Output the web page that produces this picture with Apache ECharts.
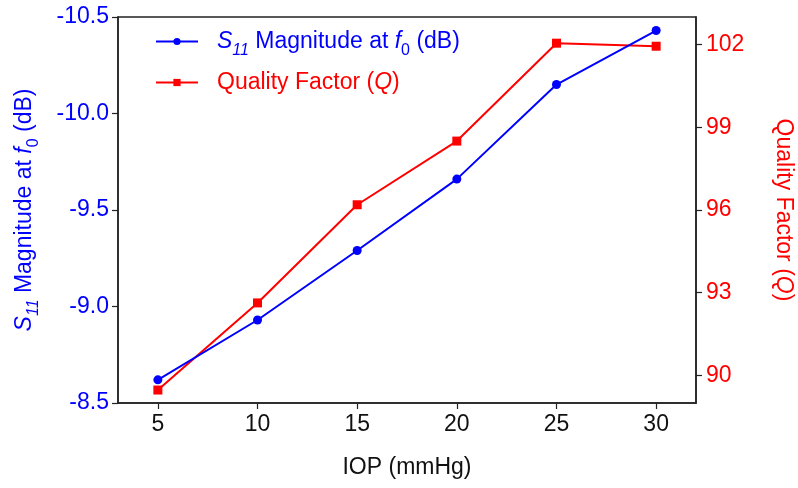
<!DOCTYPE html>
<html>
<head>
<meta charset="utf-8">
<script src="https://cdn.jsdelivr.net/npm/echarts@6/dist/echarts.min.js"></script>
<style>
  html, body { margin: 0; padding: 0; background: #fff; }
  #chart { width: 798px; height: 488px; }
</style>
</head>
<body>
<div id="chart"></div>
<script>
// IOP levels (mmHg)
const iop = [5, 10, 15, 20, 25, 30];
// S11 magnitude at the resonant frequency (dB)
const s11 = [-8.62, -8.93, -9.29, -9.66, -10.15, -10.43];
// Quality factor
const qFactor = [89.47, 92.63, 96.19, 98.50, 102.05, 101.94];
// Tick labels
const s11Ticks = [-10.5, -10.0, -9.5, -9.0, -8.5];
const qTicks = [90, 93, 96, 99, 102];
const iopTicks = [5, 10, 15, 20, 25, 30];

const BLUE = '#0000ff';
const RED = '#ff0000';
const AXIS = '#222222';
const FONT = '"Liberation Sans", Arial, sans-serif';
const FS = 23;

const S11_NAME = 'S11 Magnitude at f0 (dB)';
const Q_NAME = 'Quality Factor (Q)';

const rich = {
  n: { fontFamily: FONT, fontSize: FS, lineHeight: 25, verticalAlign: 'middle' },
  i: { fontFamily: FONT, fontSize: FS, fontStyle: 'italic', lineHeight: 25, verticalAlign: 'middle' },
  si: { fontFamily: FONT, fontSize: 16, fontStyle: 'italic', lineHeight: 35, verticalAlign: 'bottom' },
  s: { fontFamily: FONT, fontSize: 16, lineHeight: 35, verticalAlign: 'bottom' }
};

function richLabel(name) {
  if (name === S11_NAME) return '{i|S}{si|11}{n| Magnitude at }{i|f}{s|0}{n| (dB)}';
  return '{n|Quality Factor (}{i|Q}{n|)}';
}

const chart = echarts.init(document.getElementById('chart'), null, { renderer: 'canvas' });

chart.setOption({
  animation: false,
  backgroundColor: '#ffffff',
  textStyle: { fontFamily: FONT },
  grid: {
    left: 118, right: 102, top: 17, bottom: 85,
    containLabel: false, outerBoundsMode: 'none',
    show: true, borderColor: AXIS, borderWidth: 1.5, backgroundColor: 'transparent'
  },
  legend: {
    left: 150, top: 25, orient: 'vertical',
    itemWidth: 42, itemHeight: 9, itemGap: 12,
    data: [
      { name: S11_NAME, textStyle: { color: BLUE } },
      { name: Q_NAME, textStyle: { color: RED } }
    ],
    formatter: richLabel,
    textStyle: { fontFamily: FONT, fontSize: FS, rich: rich, padding: [0, 0, 0, 14] }
  },
  xAxis: {
    type: 'value', min: 3, max: 32,
    name: 'IOP (mmHg)', nameLocation: 'middle', nameGap: 53,
    nameTextStyle: { color: '#111', fontSize: FS, fontFamily: FONT },
    axisLine: { show: true, lineStyle: { color: AXIS, width: 1.5 } },
    axisTick: { show: true, inside: false, length: 6, lineStyle: { color: AXIS, width: 1.2 }, customValues: iopTicks },
    axisLabel: { color: '#111', fontSize: FS, fontFamily: FONT, margin: 10, customValues: iopTicks },
    splitLine: { show: false }
  },
  yAxis: [
    {
      type: 'value', inverse: true, min: -10.5, max: -8.5, interval: 0.5,
      position: 'left',
      name: '{i|S}{si|11}{n| Magnitude at }{i|f}{s|0}{n| (dB)}',
      nameLocation: 'middle', nameGap: 76,
      nameTextStyle: { color: BLUE, fontSize: FS, fontFamily: FONT, rich: rich },
      axisLine: { show: true, lineStyle: { color: AXIS, width: 1.5 } },
      axisTick: { show: true, inside: false, length: 6, lineStyle: { color: AXIS, width: 1.2 }, customValues: s11Ticks },
      axisLabel: {
        color: BLUE, fontSize: FS, fontFamily: FONT, margin: 9, customValues: s11Ticks,
        formatter: v => v.toFixed(1)
      },
      splitLine: { show: false }
    },
    {
      type: 'value', min: 89, max: 103,
      position: 'right',
      name: '{n|Quality Factor (}{i|Q}{n|)}',
      nameLocation: 'middle', nameGap: 75, nameRotate: -90,
      nameTextStyle: { color: RED, fontSize: FS, fontFamily: FONT, rich: rich },
      axisLine: { show: true, lineStyle: { color: AXIS, width: 1.5 } },
      axisTick: { show: true, inside: false, length: 6, lineStyle: { color: AXIS, width: 1.2 }, customValues: qTicks },
      axisLabel: { color: RED, fontSize: FS, fontFamily: FONT, margin: 10, customValues: qTicks },
      splitLine: { show: false }
    }
  ],
  series: [
    {
      name: S11_NAME, type: 'line', yAxisIndex: 0,
      data: iop.map((x, k) => [x, s11[k]]),
      symbol: 'circle', symbolSize: 9,
      lineStyle: { color: BLUE, width: 2 },
      itemStyle: { color: BLUE },
      z: 3
    },
    {
      name: Q_NAME, type: 'line', yAxisIndex: 1,
      data: iop.map((x, k) => [x, qFactor[k]]),
      symbol: 'rect', symbolSize: 9,
      lineStyle: { color: RED, width: 2 },
      itemStyle: { color: RED },
      z: 2
    }
  ]
});
</script>
</body>
</html>
